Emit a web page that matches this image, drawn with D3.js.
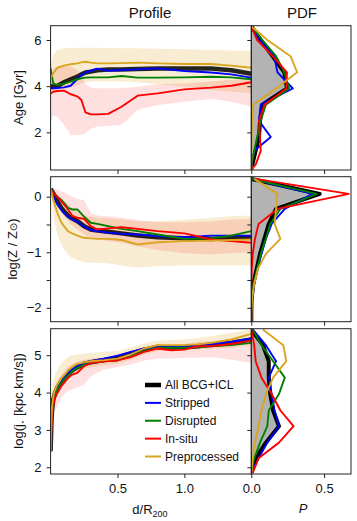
<!DOCTYPE html>
<html>
<head>
<meta charset="utf-8">
<script src="https://cdn.jsdelivr.net/npm/d3@7"></script>
<style>
  body { margin: 0; background: #fff; }
  svg { display: block; font-family: "Liberation Sans", Arial, sans-serif; }
  .axis path { display: none; }
  .axis line { stroke: #222; }
  .axis text { font-size: 13px; fill: #111; font-family: "Liberation Sans", Arial, sans-serif; }
</style>
</head>
<body>
<svg id="chart" width="357" height="521"></svg>
<script>
// ---- series names / colours ----
const seriesNames = ["All BCG+ICL", "Stripped", "Disrupted", "In-situ", "Preprocessed"];
const seriesColors = ["#000000", "#0000ff", "#008000", "#ff0000", "#daa520"];

// ---- Age profile (Gyr) vs d/R200 ----
const ageX = [0, 0.02, 0.05, 0.1, 0.15, 0.2, 0.23, 0.26, 0.3, 0.35, 0.43, 0.53, 0.65, 0.8, 1.0, 1.2, 1.35, 1.5];
const ageAll = [4.01, 3.97, 4.01, 4.17, 4.30, 4.41, 4.51, 4.59, 4.63, 4.69, 4.72, 4.72, 4.74, 4.77, 4.77, 4.77, 4.69, 4.54];
const ageStripped = [3.91, 3.91, 3.92, 3.95, 4.02, 4.31, 4.48, 4.60, 4.67, 4.76, 4.67, 4.70, 4.73, 4.77, 4.66, 4.59, 4.51, 4.37];
const ageDisrupted = [4.77, 4.12, 4.05, 4.11, 4.20, 4.30, 4.34, 4.37, 4.38, 4.38, 4.38, 4.44, 4.37, 4.37, 4.38, 4.41, 4.38, 4.30];
const ageInsitu = [3.69, 3.76, 3.79, 3.81, 3.65, 3.56, 3.40, 2.87, 2.78, 2.78, 2.80, 3.11, 3.59, 3.69, 3.86, 3.94, 4.02, 4.17];
const agePre = [4.34, 4.56, 4.80, 4.89, 4.95, 4.99, 5.03, 5.06, 5.02, 4.99, 4.99, 5.00, 5.02, 4.99, 4.96, 4.96, 4.89, 4.80];
const agePreHi = [4.77, 5.35, 5.57, 5.64, 5.65, 5.67, 5.67, 5.67, 5.67, 5.67, 5.65, 5.64, 5.64, 5.62, 5.60, 5.57, 5.55, 5.54];
const agePreLo = [3.76, 3.76, 3.84, 3.88, 3.94, 4.05, 4.12, 4.17, 4.20, 4.20, 4.20, 4.20, 4.17, 4.08, 3.98, 3.84, 3.76, 3.69];
const ageInsituHi = [4.05, 4.77, 4.85, 4.89, 4.85, 4.70, 4.48, 4.12, 3.94, 3.91, 3.91, 3.91, 3.98, 4.08, 4.12, 4.20, 4.27, 4.34];
const ageInsituLo = [2.46, 2.75, 2.68, 2.32, 1.89, 1.89, 1.89, 1.96, 2.15, 2.25, 2.28, 2.32, 2.97, 3.19, 3.33, 3.45, 3.33, 3.11];

// ---- Metallicity profile log(Z/Zsun) ----
const zX = [0, 0.02, 0.05, 0.08, 0.1, 0.13, 0.16, 0.2, 0.25, 0.3, 0.35, 0.43, 0.53, 0.65, 0.8, 1.0, 1.2, 1.35, 1.5];
const zAll = [0.14, 0.06, -0.08, -0.20, -0.26, -0.34, -0.39, -0.44, -0.53, -0.59, -0.61, -0.63, -0.66, -0.70, -0.73, -0.75, -0.76, -0.74, -0.74];
const zStripped = [0.13, 0.01, -0.14, -0.23, -0.29, -0.36, -0.41, -0.45, -0.54, -0.60, -0.62, -0.65, -0.67, -0.68, -0.71, -0.73, -0.70, -0.70, -0.70];
const zDisrupted = [0.14, 0.07, 0, -0.06, -0.11, -0.20, -0.23, -0.23, -0.36, -0.47, -0.49, -0.53, -0.58, -0.62, -0.68, -0.76, -0.75, -0.70, -0.62];
const zInsitu = [0.12, 0.07, 0, -0.08, -0.14, -0.23, -0.34, -0.38, -0.40, -0.53, -0.59, -0.57, -0.55, -0.58, -0.62, -0.66, -0.77, -0.80, -0.83];
const zPre = [0.14, -0.05, -0.29, -0.46, -0.53, -0.62, -0.66, -0.70, -0.74, -0.75, -0.76, -0.76, -0.78, -0.86, -0.82, -0.80, -0.79, -0.78, -0.77];
const zPreHi = [0.16, 0.10, 0.04, -0.02, -0.06, -0.14, -0.20, -0.28, -0.34, -0.36, -0.38, -0.39, -0.41, -0.44, -0.44, -0.42, -0.38, -0.35, -0.34];
const zPreLo = [0.13, -0.35, -0.68, -0.86, -0.95, -1.04, -1.10, -1.14, -1.18, -1.19, -1.19, -1.20, -1.24, -1.28, -1.25, -1.24, -1.24, -1.24, -1.24];
const zInsituHi = [0.16, 0.14, 0.13, 0.10, 0.08, 0.04, 0, -0.04, -0.06, -0.29, -0.34, -0.35, -0.38, -0.42, -0.46, -0.46, -0.44, -0.41, -0.40];
const zInsituLo = [0.10, -0.02, -0.17, -0.29, -0.35, -0.44, -0.52, -0.59, -0.68, -0.74, -0.77, -0.80, -0.83, -0.89, -0.96, -1.02, -1.04, -1.02, -1.00];

// ---- Specific angular momentum log(j*) ----
const jX = [0, 0.005, 0.01, 0.02, 0.03, 0.05, 0.08, 0.1, 0.13, 0.16, 0.2, 0.25, 0.3, 0.4, 0.5, 0.6, 0.7, 0.8, 0.9, 1.0, 1.1, 1.2, 1.35, 1.5];
const jAll = [2.43, 3.05, 3.50, 3.81, 3.95, 4.13, 4.30, 4.39, 4.50, 4.59, 4.68, 4.77, 4.81, 4.87, 4.93, 5.04, 5.15, 5.22, 5.21, 5.22, 5.24, 5.29, 5.33, 5.42];
const jStripped = [2.43, 3.05, 3.50, 3.81, 3.95, 4.14, 4.32, 4.42, 4.53, 4.62, 4.71, 4.79, 4.84, 4.91, 4.99, 5.09, 5.18, 5.22, 5.22, 5.24, 5.27, 5.30, 5.36, 5.45];
const jDisrupted = [2.43, 3.05, 3.46, 3.79, 3.92, 4.08, 4.26, 4.35, 4.46, 4.57, 4.66, 4.75, 4.79, 4.84, 4.86, 4.97, 5.11, 5.20, 5.20, 5.20, 5.21, 5.24, 5.27, 5.33];
const jInsitu = [2.43, 2.96, 3.37, 3.68, 3.84, 3.99, 4.17, 4.26, 4.39, 4.48, 4.53, 4.71, 4.79, 4.84, 4.86, 4.95, 5.09, 5.18, 5.13, 5.15, 5.24, 5.24, 5.30, 5.39];
const jPre = [2.43, 3.14, 3.59, 3.90, 4.04, 4.21, 4.38, 4.46, 4.59, 4.68, 4.77, 4.81, 4.84, 4.87, 4.91, 5.02, 5.18, 5.27, 5.27, 5.27, 5.29, 5.33, 5.42, 5.57];
const jPreHi = [2.79, 3.68, 4.04, 4.30, 4.44, 4.62, 4.79, 4.86, 4.95, 5.00, 5.02, 5.04, 5.06, 5.09, 5.11, 5.21, 5.33, 5.39, 5.41, 5.42, 5.46, 5.51, 5.60, 5.69];
const jPreLo = [2.16, 2.79, 3.23, 3.50, 3.68, 3.90, 4.13, 4.21, 4.32, 4.44, 4.55, 4.64, 4.68, 4.73, 4.77, 4.88, 5.02, 5.11, 5.13, 5.14, 5.15, 5.18, 5.21, 5.27];
const jInsituHi = [2.70, 3.41, 3.77, 4.04, 4.17, 4.32, 4.48, 4.57, 4.71, 4.77, 4.84, 4.88, 4.91, 4.93, 4.97, 5.06, 5.20, 5.29, 5.29, 5.30, 5.36, 5.38, 5.42, 5.48];
const jInsituLo = [2.07, 2.61, 3.05, 3.32, 3.46, 3.63, 3.86, 3.95, 4.04, 4.08, 4.14, 4.21, 4.44, 4.62, 4.68, 4.75, 4.86, 4.91, 4.91, 4.93, 4.93, 4.95, 4.88, 4.79];

// ---- PDFs (P along x, bin centre along y) ----
const ageBins = [6.6, 6.0, 5.3, 4.6, 3.9, 3.2, 2.5, 1.8, 1.2, 0.6, 0.4];
const pdfAgeAll = [0, 0.065, 0.146, 0.227, 0.245, 0.076, 0.06, 0.053, 0.03, 0.007, 0];
const pdfAgeStripped = [0, 0.053, 0.157, 0.18, 0.285, 0.065, 0.053, 0.134, 0.02, 0.002, 0];
const pdfAgeDisrupted = [0, 0.076, 0.17, 0.227, 0.26, 0.1, 0.065, 0.04, 0.02, 0, 0];
const pdfAgeInsitu = [0, 0.04, 0.146, 0.245, 0.24, 0.09, 0.053, 0.06, 0.065, 0.03, 0];
const pdfAgePre = [0, 0.11, 0.27, 0.315, 0.17, 0.014, 0.005, 0.002, 0, 0, 0];

const zBins = [0.32, 0.05, -0.22, -0.49, -0.76, -1.03, -1.3, -1.57, -1.84, -2.11, -2.25];
const pdfZAll = [0, 0.47, 0.17, 0.12, 0.09, 0.06, 0.037, 0.014, 0.002, 0, 0];
const pdfZStripped = [0, 0.42, 0.23, 0.14, 0.1, 0.07, 0.04, 0.02, 0.005, 0, 0];
const pdfZDisrupted = [0, 0.45, 0.2, 0.13, 0.1, 0.065, 0.04, 0.015, 0.005, 0, 0];
const pdfZInsitu = [0.03, 0.67, 0.18, 0.05, 0.025, 0.01, 0.003, 0, 0, 0, 0];
const pdfZPre = [0.02, 0.18, 0.17, 0.16, 0.2, 0.1, 0.045, 0.02, 0.005, 0, 0];

const jBins = [5.69, 5.27, 4.84, 4.4, 3.96, 3.52, 3.1, 2.66, 2.24, 1.85];
const pdfJAll = [0, 0.08, 0.12, 0.12, 0.13, 0.15, 0.19, 0.1, 0.03, 0];
const pdfJStripped = [0.01, 0.1, 0.17, 0.12, 0.14, 0.16, 0.19, 0.11, 0.05, 0];
const pdfJDisrupted = [0.01, 0.07, 0.15, 0.23, 0.19, 0.12, 0.11, 0.06, 0.02, 0];
const pdfJInsitu = [0, 0.02, 0.03, 0.07, 0.14, 0.2, 0.29, 0.19, 0.05, 0.01];
const pdfJPre = [0.08, 0.22, 0.24, 0.15, 0.1, 0.07, 0.05, 0.025, 0.01, 0];

// ---- tick values ----
const distTicks = [0.5, 1.0];
const pTicks = [0, 0.5];
const ageTicks = [2, 4, 6];
const zTicks = [-2, -1.5, -1, -0.5, 0];
const jTicks = [2, 3, 4, 5];

// ---------------------------------------------------------------
const svg = d3.select('#chart');
const X0 = 50.6, X1 = 251.3, X2 = 351;
const x = d3.scaleLinear().domain([0, 1.5]).range([X0, X1]);
const p = d3.scaleLinear().domain([0, 0.685]).range([X1, X2]);

const panels = [
  { top: 25.7, bottom: 170, domain: [0.37, 6.62], ticks: ageTicks, xs: ageX,
    profiles: [ageAll, ageStripped, ageDisrupted, ageInsitu, agePre],
    preBand: [agePreLo, agePreHi], insituBand: [ageInsituLo, ageInsituHi],
    bins: ageBins, pdfs: [pdfAgeAll, pdfAgeStripped, pdfAgeDisrupted, pdfAgeInsitu, pdfAgePre] },
  { top: 176.7, bottom: 321.7, domain: [-2.25, 0.36], ticks: zTicks, xs: zX,
    profiles: [zAll, zStripped, zDisrupted, zInsitu, zPre],
    preBand: [zPreLo, zPreHi], insituBand: [zInsituLo, zInsituHi],
    bins: zBins, pdfs: [pdfZAll, pdfZStripped, pdfZDisrupted, pdfZInsitu, pdfZPre] },
  { top: 328.7, bottom: 474, domain: [1.82, 5.71], ticks: jTicks, xs: jX,
    profiles: [jAll, jStripped, jDisrupted, jInsitu, jPre],
    preBand: [jPreLo, jPreHi], insituBand: [jInsituLo, jInsituHi],
    bins: jBins, pdfs: [pdfJAll, pdfJStripped, pdfJDisrupted, pdfJInsitu, pdfJPre] }
];

const defs = svg.append('defs');

panels.forEach((pn, i) => {
  const y = d3.scaleLinear().domain(pn.domain).range([pn.bottom, pn.top]);

  defs.append('clipPath').attr('id', 'clipL' + i)
    .append('rect').attr('x', X0).attr('y', pn.top).attr('width', X1 - X0).attr('height', pn.bottom - pn.top);
  defs.append('clipPath').attr('id', 'clipR' + i)
    .append('rect').attr('x', X1).attr('y', pn.top).attr('width', X2 - X1).attr('height', pn.bottom - pn.top);

  // profile panel
  const gl = svg.append('g').attr('clip-path', `url(#clipL${i})`);
  const band = d3.area().x((d, k) => x(pn.xs[k]));

  gl.append('path').datum(pn.preBand[0])
    .attr('d', band.y0(d => y(d)).y1((d, k) => y(pn.preBand[1][k])))
    .attr('fill', '#daa520').attr('fill-opacity', 0.2);
  gl.append('path').datum(pn.insituBand[0])
    .attr('d', band.y0(d => y(d)).y1((d, k) => y(pn.insituBand[1][k])))
    .attr('fill', '#ff0000').attr('fill-opacity', 0.12);

  const line = d3.line().x((d, k) => x(pn.xs[k])).y(d => y(d));
  pn.profiles.forEach((vals, s) => {
    gl.append('path').datum(vals).attr('d', line)
      .attr('fill', 'none')
      .attr('stroke', seriesColors[s])
      .attr('stroke-opacity', s === 0 ? 0.85 : 1)
      .attr('stroke-width', s === 0 ? 4.5 : 1.9)
      .attr('stroke-linejoin', 'round');
  });

  // PDF panel
  const gr = svg.append('g').attr('clip-path', `url(#clipR${i})`);
  const pdfArea = d3.area().y((d, k) => y(pn.bins[k])).x0(p(0)).x1(d => p(d));
  gr.append('path').datum(pn.pdfs[0]).attr('d', pdfArea).attr('fill', '#b3b3b3');
  const pdfLine = d3.line().x(d => p(d)).y((d, k) => y(pn.bins[k]));
  pn.pdfs.forEach((vals, s) => {
    gr.append('path').datum(vals).attr('d', pdfLine)
      .attr('fill', 'none')
      .attr('stroke', seriesColors[s])
      .attr('stroke-width', s === 0 ? 4 : 1.9)
      .attr('stroke-linejoin', 'round');
  });

  // frames
  svg.append('rect').attr('x', X0).attr('y', pn.top).attr('width', X1 - X0).attr('height', pn.bottom - pn.top)
    .attr('fill', 'none').attr('stroke', '#222').attr('stroke-width', 1);
  svg.append('rect').attr('x', X1).attr('y', pn.top).attr('width', X2 - X1).attr('height', pn.bottom - pn.top)
    .attr('fill', 'none').attr('stroke', '#222').attr('stroke-width', 1);

  // axes
  const fmt = d3.format('d');
  svg.append('g').attr('class', 'axis').attr('transform', `translate(${X0},0)`)
    .call(d3.axisLeft(y).tickValues(pn.ticks).tickSize(4).tickPadding(5)
      .tickFormat(d => Number.isInteger(d) ? fmt(d) : ''));
  svg.append('g').attr('class', 'axis').attr('transform', `translate(${X1},0)`)
    .call(d3.axisLeft(y).tickValues(pn.ticks).tickSize(4).tickFormat(''));
  svg.append('g').attr('class', 'axis').attr('transform', `translate(0,${pn.bottom})`)
    .call(d3.axisBottom(x).tickValues(distTicks).tickSize(4).tickPadding(6)
      .tickFormat(i === 2 ? d3.format('.1f') : ''));
  svg.append('g').attr('class', 'axis').attr('transform', `translate(0,${pn.bottom})`)
    .call(d3.axisBottom(p).tickValues(pTicks).tickSize(4).tickPadding(6)
      .tickFormat(i === 2 ? d3.format('.1f') : ''));
});

// titles
svg.append('text').attr('x', 150).attr('y', 18).attr('text-anchor', 'middle')
  .attr('font-size', 15).attr('fill', '#111').text('Profile');
svg.append('text').attr('x', 302).attr('y', 18).attr('text-anchor', 'middle')
  .attr('font-size', 15).attr('fill', '#111').text('PDF');

// y labels
const yl1 = svg.append('text').attr('transform', 'translate(23,97.5) rotate(-90)')
  .attr('text-anchor', 'middle').attr('font-size', 13).attr('fill', '#111').text('Age [Gyr]');
const yl2 = svg.append('text').attr('transform', 'translate(17,249) rotate(-90)')
  .attr('text-anchor', 'middle').attr('font-size', 13).attr('fill', '#111');
yl2.append('tspan').text('log(Z / Z');
yl2.append('tspan').attr('font-family', 'DejaVu Sans').attr('font-size', 10).text('\u2299');
yl2.append('tspan').text(')');
const yl3 = svg.append('text').attr('transform', 'translate(23,401) rotate(-90)')
  .attr('text-anchor', 'middle').attr('font-size', 13).attr('fill', '#111');
yl3.append('tspan').text('log(j');
yl3.append('tspan').attr('font-family', 'DejaVu Sans').attr('font-size', 7).attr('dy', 2).text('\u22C6');
yl3.append('tspan').attr('dy', -2).text(' [kpc km/s])');

// x labels
const xl = svg.append('text').attr('x', 150).attr('y', 514).attr('text-anchor', 'middle')
  .attr('font-size', 13).attr('fill', '#111');
xl.append('tspan').text('d/R');
xl.append('tspan').attr('font-size', 9).attr('dy', 3).text('200');
svg.append('text').attr('x', 303).attr('y', 513).attr('text-anchor', 'middle')
  .attr('font-size', 13).attr('font-style', 'italic').attr('fill', '#111').text('P');

// legend
const legY = d3.scalePoint().domain(seriesNames).range([385, 456.5]);
const leg = svg.append('g');
seriesNames.forEach((name, s) => {
  leg.append('line').attr('x1', 145).attr('x2', 161).attr('y1', legY(name)).attr('y2', legY(name))
    .attr('stroke', seriesColors[s]).attr('stroke-width', s === 0 ? 4.5 : 2);
  leg.append('text').attr('x', 165).attr('y', legY(name)).attr('dy', '0.36em')
    .attr('font-size', 12).attr('fill', '#111').text(name);
});
</script>
</body>
</html>
